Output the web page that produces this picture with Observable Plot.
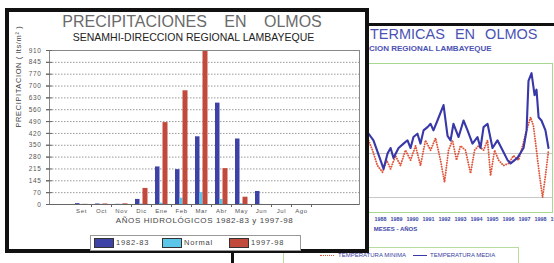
<!DOCTYPE html>
<html><head><meta charset="utf-8">
<script src="https://cdn.jsdelivr.net/npm/d3@7"></script>
<script src="https://cdn.jsdelivr.net/npm/@observablehq/plot@0.6"></script>
<style>
body{margin:0;background:#fff;font-family:"Liberation Sans",Arial,sans-serif;}
#stage{position:relative;width:554px;height:263px;overflow:hidden;background:#fff;}
.abs{position:absolute;white-space:nowrap;}
#frontchart text{letter-spacing:0.6px;}
.sw{position:absolute;top:2px;width:18px;height:8px;border:1px solid #333;}
.lt{position:absolute;top:1px;font-size:7.5px;letter-spacing:0.8px;color:#444;line-height:11px;}
.blt{position:absolute;top:0;font-size:6px;color:#3a3f9e;line-height:8px;}
</style></head><body><div id="stage">
<div class="abs" style="left:231px;top:23px;width:400px;height:300px;border-left:3px solid #111;border-top:3px solid #111;background:#fff"></div>
<div id="backchart" class="abs" style="left:0;top:0"></div>
<div class="abs" style="left:370px;top:27px;font-size:14.5px;line-height:15px;color:#4c52b4;word-spacing:6px">TERMICAS EN OLMOS</div>
<div class="abs" style="left:369px;top:44px;font-size:8px;line-height:9px;font-weight:bold;color:#4c52b4">CION REGIONAL LAMBAYEQUE</div>
<div class="abs" style="left:283px;top:247px;width:234px;height:30px;border:1px solid #b8dca0;"></div>
<div class="abs" style="left:318px;top:251px;width:200px;height:9px">
  <div class="abs" style="left:2px;top:4px;width:14px;border-top:1.6px dotted #e0553a"></div>
  <div class="blt" id="bl1" style="left:20px"></div>
  <div class="abs" style="left:95px;top:4px;width:14px;border-top:1.5px solid #3838a8"></div>
  <div class="blt" id="bl2" style="left:112px"></div>
</div>
<div class="abs" style="left:5px;top:8px;width:356px;height:237px;border:4px solid #111;background:#fff"></div>
<div class="abs" style="left:0;top:13.5px;width:384px;text-align:center;font-size:16px;line-height:16px;color:#6a6a6a;word-spacing:13px">PRECIPITACIONES EN OLMOS</div>
<div class="abs" style="left:0;top:31.8px;width:387px;text-align:center;font-size:10.5px;line-height:11px;color:#222">SENAMHI-DIRECCION REGIONAL LAMBAYEQUE</div>
<div id="frontchart" class="abs" style="left:0;top:0"></div>
<div class="abs" id="legend" style="left:90px;top:235px;width:209px;height:14px;border:1px solid #999;background:#fff"></div>
</div>
<script>
// ---- front chart data ----
const months = ["Set","Oct","Nov","Dic","Ene","Feb","Mar","Abr","May","Jun","Jul","Ago"];
const rain8283 = [5,3,1,30,222,206,400,599,387,77,0,0];
const rainNormal = [0.5,1,1,3,8,37,70,30,5,1,0,0];
const rain9798 = [1,3,4,95,484,672,906,212,43,0,0,0];
const seriesNames = ["1982-83","Normal","1997-98"];
const seriesColors = ["#3d42a6","#5cc6ea","#c24a3c"];
const yTicks = [0,70,140,210,280,350,420,490,560,630,700,770,840,910];
const yTickLabels = ["0","70","145","215","280","350","420","490","560","630","700","770","845","910"];
const yLabel = "PRECIPITACION ( lts/m² )";
const xLabel = "AÑOS HIDROLÓGICOS 1982-83 y 1997-98";

// ---- back chart data ----
const mediaYear = [1987.25,1987.56,1988.0,1988.19,1988.44,1988.63,1988.81,1989.13,1989.44,1989.69,1989.88,1990.06,1990.31,1990.5,1990.69,1990.94,1991.13,1991.31,1991.56,1991.94,1992.19,1992.38,1992.56,1992.88,1993.19,1993.44,1993.75,1994.06,1994.25,1994.44,1994.69,1995.0,1995.31,1995.63,1995.94,1996.13,1996.56,1996.94,1997.13,1997.25,1997.44,1997.63,1997.75,1997.88,1998.06,1998.31,1998.5];
const mediaTemp = [21.8,21.2,19.4,18.6,20.0,20.5,19.6,20.5,20.9,21.2,20.5,21.5,21.8,20.9,22.1,22.4,22.7,22.1,23.0,24.4,21.6,21.2,22.7,21.5,23.0,22.1,20.9,21.5,20.5,22.4,22.7,20.5,21.2,20.3,19.4,19.1,19.6,20.5,22.1,26.6,27.3,25.3,25.8,23.3,23.0,22.1,20.5];
const minimaYear = [1987.25,1987.5,1987.81,1988.13,1988.38,1988.63,1988.94,1989.25,1989.56,1989.88,1990.19,1990.5,1990.81,1991.13,1991.44,1991.75,1992.0,1992.25,1992.5,1992.75,1993.0,1993.31,1993.63,1993.88,1994.13,1994.44,1994.69,1994.88,1995.13,1995.38,1995.69,1996.0,1996.31,1996.63,1996.88,1997.13,1997.38,1997.56,1997.75,1997.94,1998.13,1998.31,1998.5];
const minimaTemp = [21.2,20.3,18.9,18.3,19.4,18.6,19.8,18.9,20.3,19.4,20.7,18.9,21.2,20.3,21.4,19.4,17.4,20.3,21.2,19.4,20.7,20.3,18.2,20.3,20.7,20.3,21.2,18.0,20.3,19.4,18.9,19.1,19.8,19.4,20.7,22.1,23.3,22.5,20.3,18.0,16.0,18.0,20.3];
const backNames = ["TEMPERATURA MINIMA","TEMPERATURA MEDIA"];
const backYearTicks = [1988,1989,1990,1991,1992,1993,1994,1995,1996,1997,1998,1999];
const backGrid = [16,20];
const backXLabel = "MESES - AÑOS";

// ---- front chart ----
const rows = s => months.map((m,i)=>({month:m, value:s[i]}));
const front = Plot.plot({
  width: 370, height: 232,
  marginLeft: 49, marginRight: 11, marginTop: 50, marginBottom: 28,
  style: {fontFamily: "'Liberation Sans', Arial, sans-serif", background: "transparent", overflow: "visible"},
  x: {domain: months, paddingInner: 0, paddingOuter: 1.75, align: 0.32},
  y: {domain: [0, 910]},
  marks: [
    Plot.gridY(yTicks, {stroke: "#999", strokeOpacity: 1, strokeDasharray: "1.5,1.5"}),
    Plot.barY(rows(rain8283), {x: "month", y: "value", fill: seriesColors[0], insetLeft: 4, insetRight: 11.5}),
    Plot.barY(rows(rainNormal), {x: "month", y: "value", fill: seriesColors[1], insetLeft: 8.5, insetRight: 8.5}),
    Plot.barY(rows(rain9798), {x: "month", y: "value", fill: seriesColors[2], insetLeft: 11.5, insetRight: 3.5}),
    Plot.frame({stroke: "#888"}),
    Plot.ruleY([0], {stroke: "#666"}),
    Plot.axisY(yTicks, {tickSize: 3, tickPadding: 5, fontSize: 6.5, fill: "#555", stroke: "#666",
      tickFormat: d => yTickLabels[yTicks.indexOf(d)], label: null}),
    Plot.axisY(yTicks, {tickSize: 6, dx: 3, tickPadding: 0, stroke: "#666", tickFormat: () => "", label: null}),
    Plot.axisX({tickSize: 0, tickPadding: 4, fontSize: 6, fill: "#555", label: null}),
    Plot.axisX({tickSize: 3, dx: 10, stroke: "#666", tickFormat: () => "", label: null}),
    Plot.text([xLabel], {frameAnchor: "bottom", dy: 18, fontSize: 8, fill: "#444"}),
    Plot.text([yLabel], {frameAnchor: "left", rotate: -90, dx: -31, fontSize: 7.5, fill: "#444"})
  ]
});
document.getElementById("frontchart").appendChild(front);

// legend
const lg = document.getElementById("legend");
const swX = [3, 71, 138], txX = [25, 93, 160];
seriesNames.forEach((n,i)=>{
  const s = document.createElement("div"); s.className = "sw";
  s.style.left = swX[i] + "px"; s.style.background = seriesColors[i]; lg.appendChild(s);
  const t = document.createElement("div"); t.className = "lt";
  t.style.left = txX[i] + "px"; t.textContent = n; lg.appendChild(t);
});

// ---- back chart ----
const back = Plot.plot({
  width: 554, height: 240,
  marginLeft: 238, marginRight: 2, marginTop: 63, marginBottom: 28,
  style: {fontFamily: "'Liberation Sans', Arial, sans-serif", background: "transparent", overflow: "visible"},
  x: {domain: [1979.125, 1998.75]},
  y: {domain: [14.64, 28.18], axis: null},
  marks: [
    Plot.gridY(backGrid, {stroke: "#c8c8c8", strokeOpacity: 1}),
    Plot.frame({stroke: "#a8d890"}),
    Plot.line(minimaYear.map((x,i)=>({x, y: minimaTemp[i]})), {x: "x", y: "y", stroke: "#e0553a", strokeWidth: 1.9, strokeDasharray: "0.1,2.4", strokeLinecap: "round"}),
    Plot.line(mediaYear.map((x,i)=>({x, y: mediaTemp[i]})), {x: "x", y: "y", stroke: "#3838a8", strokeWidth: 2.1}),
    Plot.axisX(backYearTicks, {tickSize: 0, tickPadding: 5, fontSize: 5.4, fontWeight: "bold", fill: "#4046a8", tickFormat: d => String(d), label: null}),
    Plot.text([backXLabel], {frameAnchor: "bottom", dy: 18, fontSize: 6, fontWeight: "bold", fill: "#4046a8"})
  ]
});
document.getElementById("backchart").appendChild(back);
document.getElementById("bl1").textContent = backNames[0];
document.getElementById("bl2").textContent = backNames[1];
</script>
</body></html>
